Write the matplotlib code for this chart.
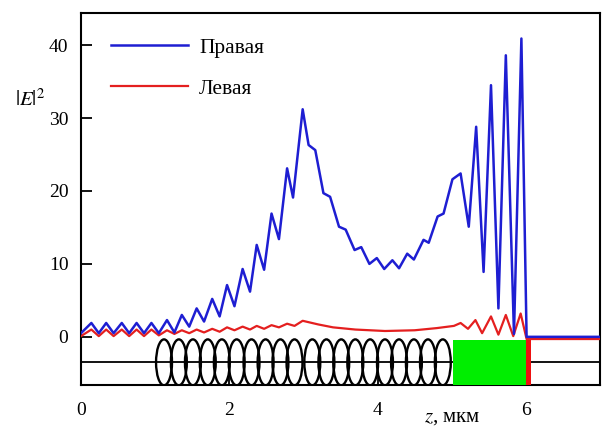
import matplotlib.pyplot as plt
from matplotlib.patches import Ellipse, Rectangle

plt.rcParams['font.family'] = ['Liberation Serif', 'DejaVu Serif']
plt.rcParams['mathtext.fontset'] = 'stix'

# Правая (blue) - peaks and troughs
z_right = [0.0, 0.14, 0.24, 0.34, 0.44, 0.55, 0.65, 0.75, 0.85, 0.95, 1.05, 1.16,
           1.26, 1.36, 1.46, 1.56, 1.66, 1.77, 1.87, 1.97, 2.07, 2.18, 2.28, 2.37,
           2.47, 2.57, 2.67, 2.78, 2.86, 2.99, 3.07, 3.16, 3.27, 3.36, 3.48, 3.57,
           3.69, 3.78, 3.89, 3.99, 4.09, 4.20, 4.29, 4.40, 4.49, 4.62, 4.69, 4.81,
           4.89, 5.01, 5.12, 5.23, 5.33, 5.43, 5.53, 5.63, 5.73, 5.84, 5.94, 6.01, 7.0]
e_right = [0.5, 1.9, 0.5, 1.9, 0.5, 1.9, 0.5, 1.9, 0.5, 1.9, 0.5, 2.3,
           0.6, 3.0, 1.4, 3.9, 2.1, 5.2, 2.8, 7.1, 4.2, 9.3, 6.2, 12.6,
           9.2, 16.9, 13.4, 23.1, 19.1, 31.2, 26.3, 25.6, 19.7, 19.2, 15.1, 14.7,
           11.9, 12.3, 10.0, 10.8, 9.3, 10.5, 9.4, 11.4, 10.6, 13.3, 12.9, 16.5,
           16.9, 21.6, 22.4, 15.1, 28.8, 8.9, 34.5, 3.9, 38.6, 0.4, 40.9, 0.0, 0.0]

# Левая (red)
z_left = [0.0, 0.14, 0.24, 0.34, 0.44, 0.55, 0.65, 0.75, 0.85, 0.95, 1.05, 1.16,
          1.26, 1.36, 1.46, 1.56, 1.66, 1.77, 1.87, 1.97, 2.07, 2.18, 2.28, 2.37,
          2.47, 2.57, 2.67, 2.78, 2.88, 2.99, 3.2, 3.4, 3.7, 4.1, 4.5, 4.8, 5.03,
          5.12, 5.22, 5.32, 5.41, 5.53, 5.63, 5.73, 5.83, 5.93, 6.01, 7.0]
e_left = [0.1, 1.0, 0.1, 1.0, 0.1, 1.0, 0.1, 1.0, 0.1, 1.0, 0.2, 0.9,
          0.4, 0.9, 0.5, 1.0, 0.6, 1.1, 0.7, 1.3, 0.9, 1.4, 1.0, 1.5,
          1.1, 1.6, 1.3, 1.8, 1.5, 2.2, 1.7, 1.3, 1.0, 0.8, 0.9, 1.2, 1.5,
          1.9, 1.1, 2.3, 0.5, 2.8, 0.3, 3.0, 0.1, 3.2, -0.3, -0.3]

# helix loops (centres in z), green layer, red edge
helix_z = [1.12, 1.32, 1.51, 1.71, 1.90, 2.10, 2.30, 2.49, 2.69, 2.88,
           3.12, 3.31, 3.51, 3.70, 3.90, 4.10, 4.29, 4.49, 4.68, 4.88]
green_z = (5.02, 6.0)
edge_z = (6.0, 6.07)

fig = plt.figure(figsize=(6.03, 4.3), dpi=100)
ax = fig.add_axes([0.1343, 0.1047, 0.8607, 0.8651])

ymin, ymax = -6.6, 44.4
ax.axhline(-3.5, color='black', lw=1.3, zorder=1)
for zc in helix_z:
    ax.add_patch(Ellipse((zc, -3.5), 0.215, 6.3, fill=False, ec='black', lw=1.7, zorder=2))
ax.add_patch(Rectangle((green_z[0], ymin - 1), green_z[1] - green_z[0], 0.6 - ymin,
                       fc='#00ee00', ec='none', zorder=3))
ax.add_patch(Rectangle((edge_z[0], ymin - 1), edge_z[1] - edge_z[0], 0.6 - ymin,
                       fc='#ee1111', ec='none', zorder=3))

ax.plot(z_left, e_left, color='#e41f1f', lw=1.6, label='Левая', zorder=4,
        solid_joinstyle='round')
ax.plot(z_right, e_right, color='#1e1ed2', lw=1.8, label='Правая', zorder=5,
        solid_joinstyle='round')

ax.set_xlim(0, 7)
ax.set_ylim(ymin, ymax)
ax.set_xticks([0, 2, 4, 6])
ax.set_yticks([0, 10, 20, 30, 40])
ax.tick_params(direction='in', length=8, width=1.3, labelsize=14)
ax.tick_params(axis='x', pad=12)
ax.tick_params(axis='y', pad=9)
for s in ax.spines.values():
    s.set_linewidth(1.5)

h, l = ax.get_legend_handles_labels()
ax.legend(h[::-1], l[::-1], loc='upper left', bbox_to_anchor=(0.02, 0.985), frameon=False,
          fontsize=15.5, handlelength=3.6, labelspacing=0.95, handletextpad=0.5)

fig.text(0.025, 0.755, r'$|E|^2$', fontsize=15)
fig.text(0.75, 0.006, r'$z$, мкм', fontsize=15, ha='center', va='bottom')

plt.savefig('out.png', dpi=100)
plt.close()
